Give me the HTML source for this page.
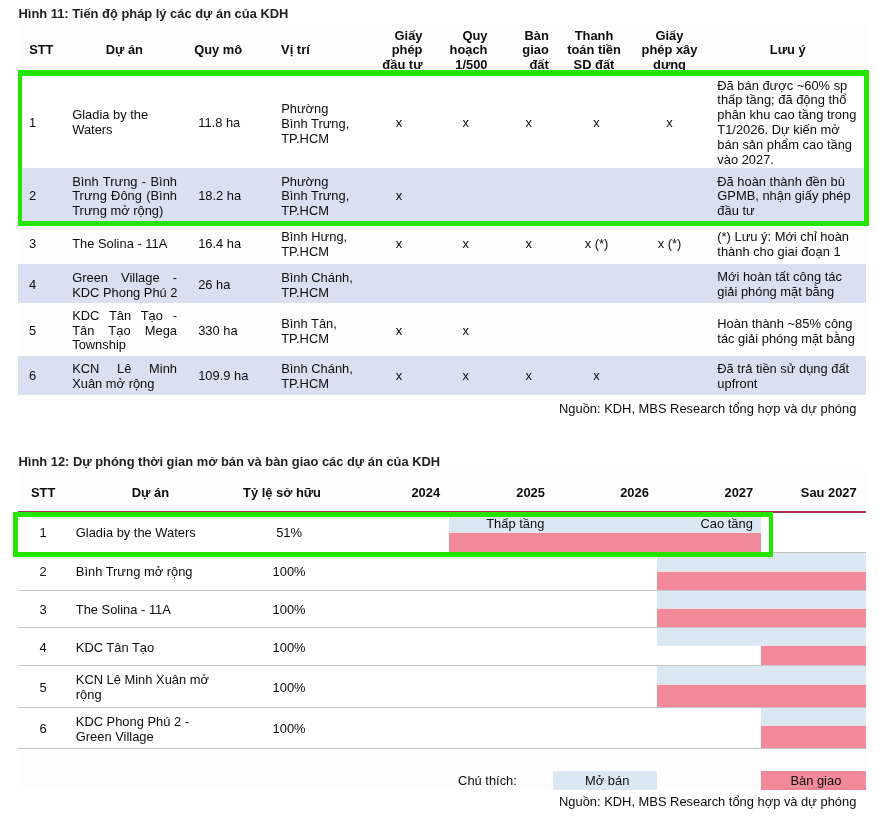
<!DOCTYPE html>
<html><head><meta charset="utf-8">
<style>
html,body{margin:0;padding:0;background:#fff;}
body{will-change:transform;width:887px;height:818px;position:relative;overflow:hidden;font-family:"Liberation Sans",sans-serif;font-size:12.9px;color:#0c0c0c;}
.t{position:absolute;white-space:nowrap;}
.t .j{text-align:justify;text-align-last:justify;white-space:normal;}
.r{position:absolute;}
.g{position:absolute;box-sizing:border-box;border-style:solid;border-color:#24e400;}
</style></head><body>
<div class="r" style="left:18px;top:23px;width:848px;height:372px;background:#fdfdfd"></div>
<div class="r" style="left:18px;top:168px;width:848px;height:56px;background:#d9e0f0"></div>
<div class="r" style="left:18px;top:263.8px;width:848px;height:39.19999999999999px;background:#d9e0f0"></div>
<div class="r" style="left:18px;top:356px;width:848px;height:38.80000000000001px;background:#d9e0f0"></div>
<div class="r" style="left:18px;top:71px;width:848px;height:97px;background:#fefefe"></div>
<div class="t" style="top:6.73px;line-height:14.6px;font-weight:bold;color:#222;left:18.5px;">Hình 11: Tiến độ pháp lý các dự án của KDH</div>
<div class="t" style="top:42.73px;line-height:14.6px;font-weight:bold;left:-108.7px;width:300px;text-align:center;">STT</div>
<div class="t" style="top:42.73px;line-height:14.6px;font-weight:bold;left:-25.700000000000003px;width:300px;text-align:center;">Dự án</div>
<div class="t" style="top:42.73px;line-height:14.6px;font-weight:bold;left:68.19999999999999px;width:300px;text-align:center;">Quy mô</div>
<div class="t" style="top:42.73px;line-height:14.6px;font-weight:bold;left:281.1px;">Vị trí</div>
<div class="t" style="top:28.73px;line-height:14.6px;font-weight:bold;right:464.5px;text-align:right;">Giấy<br>phép<br>đầu tư</div>
<div class="t" style="top:28.73px;line-height:14.6px;font-weight:bold;right:399.5px;text-align:right;">Quy<br>hoạch<br>1/500</div>
<div class="t" style="top:28.73px;line-height:14.6px;font-weight:bold;right:338.20000000000005px;text-align:right;">Bàn<br>giao<br>đất</div>
<div class="t" style="top:28.73px;line-height:14.6px;font-weight:bold;left:444.0px;width:300px;text-align:center;">Thanh<br>toán tiền<br>SD đất</div>
<div class="t" style="top:28.73px;line-height:14.6px;font-weight:bold;left:519.5px;width:300px;text-align:center;">Giấy<br>phép xây<br>dựng</div>
<div class="t" style="top:42.73px;line-height:14.6px;font-weight:bold;left:637.7px;width:300px;text-align:center;">Lưu ý</div>
<div class="t" style="top:115.63px;line-height:14.6px;left:28.9px;">1</div>
<div class="t" style="top:108.33px;line-height:14.6px;left:72.2px;">Gladia by the<br>Waters</div>
<div class="t" style="top:115.63px;line-height:14.6px;left:198.2px;">11.8 ha</div>
<div class="t" style="top:100.63px;line-height:15.0px;left:281.2px;">Phường<br>Bình Trưng,<br>TP.HCM</div>
<div class="t" style="top:115.63px;line-height:14.6px;left:248.89999999999998px;width:300px;text-align:center;">x</div>
<div class="t" style="top:115.63px;line-height:14.6px;left:315.7px;width:300px;text-align:center;">x</div>
<div class="t" style="top:115.63px;line-height:14.6px;left:378.79999999999995px;width:300px;text-align:center;">x</div>
<div class="t" style="top:115.63px;line-height:14.6px;left:446.5px;width:300px;text-align:center;">x</div>
<div class="t" style="top:115.63px;line-height:14.6px;left:519.5px;width:300px;text-align:center;">x</div>
<div class="t" style="top:78.50px;line-height:14.85px;left:717.3px;">Đã bán được ~60% sp<br>thấp tầng; đã động thổ<br>phân khu cao tầng trong<br>T1/2026. Dự kiến mở<br>bán sản phẩm cao tầng<br>vào 2027.</div>
<div class="t" style="top:189.33px;line-height:14.6px;left:28.9px;">2</div>
<div class="t" style="top:175.03px;line-height:14.4px;left:72.2px;width:104.8px;"><div class="j" style="width:104.8px">Bình Trưng - Bình</div><div class="j" style="width:104.8px">Trưng Đông (Bình</div><div>Trưng mở rộng)</div></div>
<div class="t" style="top:189.33px;line-height:14.6px;left:198.2px;">18.2 ha</div>
<div class="t" style="top:175.23px;line-height:14.2px;left:281.2px;">Phường<br>Bình Trưng,<br>TP.HCM</div>
<div class="t" style="top:189.33px;line-height:14.6px;left:248.89999999999998px;width:300px;text-align:center;">x</div>
<div class="t" style="top:175.15px;line-height:14.35px;left:717.3px;">Đã hoàn thành đền bù<br>GPMB, nhận giấy phép<br>đầu tư</div>
<div class="t" style="top:236.83px;line-height:14.6px;left:28.9px;">3</div>
<div class="t" style="top:236.83px;line-height:14.6px;left:72.2px;">The Solina - 11A</div>
<div class="t" style="top:236.83px;line-height:14.6px;left:198.2px;">16.4 ha</div>
<div class="t" style="top:229.93px;line-height:14.6px;left:281.2px;">Bình Hưng,<br>TP.HCM</div>
<div class="t" style="top:236.83px;line-height:14.6px;left:248.89999999999998px;width:300px;text-align:center;">x</div>
<div class="t" style="top:236.83px;line-height:14.6px;left:315.7px;width:300px;text-align:center;">x</div>
<div class="t" style="top:236.83px;line-height:14.6px;left:378.79999999999995px;width:300px;text-align:center;">x</div>
<div class="t" style="top:236.83px;line-height:14.6px;left:446.5px;width:300px;text-align:center;">x (*)</div>
<div class="t" style="top:236.83px;line-height:14.6px;left:519.5px;width:300px;text-align:center;">x (*)</div>
<div class="t" style="top:229.93px;line-height:14.6px;left:717.3px;">(*) Lưu ý: Mới chỉ hoàn<br>thành cho giai đoạn 1</div>
<div class="t" style="top:278.03px;line-height:14.6px;left:28.9px;">4</div>
<div class="t" style="top:269.53px;line-height:15.2px;left:72.2px;width:104.8px;"><div class="j" style="width:104.8px">Green Village -</div><div>KDC Phong Phú 2</div></div>
<div class="t" style="top:278.03px;line-height:14.6px;left:198.2px;">26 ha</div>
<div class="t" style="top:269.63px;line-height:15.0px;left:281.2px;">Bình Chánh,<br>TP.HCM</div>
<div class="t" style="top:269.68px;line-height:14.9px;left:717.3px;">Mới hoàn tất công tác<br>giải phóng mặt bằng</div>
<div class="t" style="top:324.03px;line-height:14.6px;left:28.9px;">5</div>
<div class="t" style="top:309.03px;line-height:14.6px;left:72.2px;width:104.8px;"><div class="j" style="width:104.8px">KDC Tân Tạo -</div><div class="j" style="width:104.8px">Tân Tạo Mega</div><div>Township</div></div>
<div class="t" style="top:324.03px;line-height:14.6px;left:198.2px;">330 ha</div>
<div class="t" style="top:315.53px;line-height:15.0px;left:281.2px;">Bình Tân,<br>TP.HCM</div>
<div class="t" style="top:324.03px;line-height:14.6px;left:248.89999999999998px;width:300px;text-align:center;">x</div>
<div class="t" style="top:324.03px;line-height:14.6px;left:315.7px;width:300px;text-align:center;">x</div>
<div class="t" style="top:315.53px;line-height:15.0px;left:717.3px;">Hoàn thành ~85% công<br>tác giải phóng mặt bằng</div>
<div class="t" style="top:368.63px;line-height:14.6px;left:28.9px;">6</div>
<div class="t" style="top:361.28px;line-height:15.1px;left:72.2px;width:104.8px;"><div class="j" style="width:104.8px">KCN Lê Minh</div><div>Xuân mở rộng</div></div>
<div class="t" style="top:368.63px;line-height:14.6px;left:198.2px;">109.9 ha</div>
<div class="t" style="top:361.23px;line-height:15.0px;left:281.2px;">Bình Chánh,<br>TP.HCM</div>
<div class="t" style="top:368.63px;line-height:14.6px;left:248.89999999999998px;width:300px;text-align:center;">x</div>
<div class="t" style="top:368.63px;line-height:14.6px;left:315.7px;width:300px;text-align:center;">x</div>
<div class="t" style="top:368.63px;line-height:14.6px;left:378.79999999999995px;width:300px;text-align:center;">x</div>
<div class="t" style="top:368.63px;line-height:14.6px;left:446.5px;width:300px;text-align:center;">x</div>
<div class="t" style="top:361.23px;line-height:15.0px;left:717.3px;">Đã trả tiền sử dụng đất<br>upfront</div>
<div class="t" style="top:402.13px;line-height:14.6px;right:30.700000000000045px;text-align:right;">Nguồn: KDH, MBS Research tổng hợp và dự phóng</div>
<div class="g" style="left:18px;top:70px;width:851px;height:155.5px;border-width:6px 5px 5.7px 4.9px"></div>
<div class="t" style="top:455.23px;line-height:14.6px;font-weight:bold;color:#222;left:18.5px;">Hình 12: Dự phóng thời gian mở bán và bàn giao các dự án của KDH</div>
<div class="r" style="left:18px;top:470px;width:848px;height:320px;background:#fdfdfd"></div>
<div class="r" style="left:18px;top:512px;width:848px;height:236.79999999999995px;background:#ffffff"></div>
<div class="t" style="top:486.03px;line-height:14.6px;font-weight:bold;left:-106.9px;width:300px;text-align:center;">STT</div>
<div class="t" style="top:486.03px;line-height:14.6px;font-weight:bold;left:0.4000000000000057px;width:300px;text-align:center;">Dự án</div>
<div class="t" style="top:486.03px;line-height:14.6px;font-weight:bold;left:132.0px;width:300px;text-align:center;">Tỷ lệ sở hữu</div>
<div class="t" style="top:486.03px;line-height:14.6px;font-weight:bold;right:446.9px;text-align:right;">2024</div>
<div class="t" style="top:486.03px;line-height:14.6px;font-weight:bold;right:342.1px;text-align:right;">2025</div>
<div class="t" style="top:486.03px;line-height:14.6px;font-weight:bold;right:238.20000000000005px;text-align:right;">2026</div>
<div class="t" style="top:486.03px;line-height:14.6px;font-weight:bold;right:133.79999999999995px;text-align:right;">2027</div>
<div class="t" style="top:486.03px;line-height:14.6px;font-weight:bold;right:30.299999999999955px;text-align:right;">Sau 2027</div>
<div class="r" style="left:18px;top:510.9px;width:848px;height:1.8000000000000682px;background:#a3364e"></div>
<div class="r" style="left:18px;top:551.7px;width:848px;height:1.1000000000000227px;background:#c4c4c4"></div>
<div class="r" style="left:18px;top:589.6px;width:848px;height:1.1000000000000227px;background:#c4c4c4"></div>
<div class="r" style="left:18px;top:626.7px;width:848px;height:1.1000000000000227px;background:#c4c4c4"></div>
<div class="r" style="left:18px;top:664.5px;width:848px;height:1.1000000000000227px;background:#c4c4c4"></div>
<div class="r" style="left:18px;top:707.0px;width:848px;height:1.1000000000000227px;background:#c4c4c4"></div>
<div class="r" style="left:18px;top:747.7px;width:848px;height:1.1000000000000227px;background:#c4c4c4"></div>
<div class="r" style="left:449px;top:512.2px;width:312px;height:20.5px;background:#dbe8f4"></div>
<div class="r" style="left:449px;top:532.7px;width:312px;height:19.09999999999991px;background:#f38a9b"></div>
<div class="r" style="left:449px;top:532.3px;width:312px;height:0.8000000000000682px;background:#f6dde4"></div>
<div class="r" style="left:657px;top:552.7px;width:209px;height:18.199999999999932px;background:#dbe8f4"></div>
<div class="r" style="left:657px;top:570.9px;width:209px;height:19.0px;background:#f38a9b"></div>
<div class="r" style="left:657px;top:570.5px;width:209px;height:0.7999999999999545px;background:#f6dde4"></div>
<div class="r" style="left:657px;top:590.6px;width:209px;height:17.299999999999955px;background:#dbe8f4"></div>
<div class="r" style="left:657px;top:607.9px;width:209px;height:19.100000000000023px;background:#f38a9b"></div>
<div class="r" style="left:657px;top:607.5px;width:209px;height:0.7999999999999545px;background:#f6dde4"></div>
<div class="r" style="left:657px;top:627.7px;width:209px;height:17.899999999999977px;background:#dbe8f4"></div>
<div class="r" style="left:761px;top:645.6px;width:105px;height:19.299999999999955px;background:#f38a9b"></div>
<div class="r" style="left:761px;top:645.2px;width:105px;height:0.7999999999999545px;background:#f6dde4"></div>
<div class="r" style="left:657px;top:665.5px;width:209px;height:18.899999999999977px;background:#dbe8f4"></div>
<div class="r" style="left:657px;top:684.4px;width:209px;height:22.700000000000045px;background:#f38a9b"></div>
<div class="r" style="left:657px;top:684.0px;width:209px;height:0.7999999999999545px;background:#f6dde4"></div>
<div class="r" style="left:761px;top:708.0px;width:105px;height:17.600000000000023px;background:#dbe8f4"></div>
<div class="r" style="left:761px;top:725.6px;width:105px;height:22.299999999999955px;background:#f38a9b"></div>
<div class="r" style="left:761px;top:725.2px;width:105px;height:0.7999999999999545px;background:#f6dde4"></div>
<div class="t" style="top:516.83px;line-height:14.6px;right:342.70000000000005px;text-align:right;">Thấp tầng</div>
<div class="t" style="top:516.83px;line-height:14.6px;right:134.20000000000005px;text-align:right;">Cao tầng</div>
<div class="t" style="top:525.73px;line-height:14.6px;left:-107.0px;width:300px;text-align:center;">1</div>
<div class="t" style="top:525.73px;line-height:14.6px;left:75.8px;">Gladia by the Waters</div>
<div class="t" style="top:525.73px;line-height:14.6px;left:139.10000000000002px;width:300px;text-align:center;">51%</div>
<div class="t" style="top:565.33px;line-height:14.6px;left:-107.0px;width:300px;text-align:center;">2</div>
<div class="t" style="top:565.33px;line-height:14.6px;left:75.8px;">Bình Trưng mở rộng</div>
<div class="t" style="top:565.33px;line-height:14.6px;left:139.10000000000002px;width:300px;text-align:center;">100%</div>
<div class="t" style="top:602.93px;line-height:14.6px;left:-107.0px;width:300px;text-align:center;">3</div>
<div class="t" style="top:602.93px;line-height:14.6px;left:75.8px;">The Solina - 11A</div>
<div class="t" style="top:602.93px;line-height:14.6px;left:139.10000000000002px;width:300px;text-align:center;">100%</div>
<div class="t" style="top:640.73px;line-height:14.6px;left:-107.0px;width:300px;text-align:center;">4</div>
<div class="t" style="top:640.73px;line-height:14.6px;left:75.8px;">KDC Tân Tạo</div>
<div class="t" style="top:640.73px;line-height:14.6px;left:139.10000000000002px;width:300px;text-align:center;">100%</div>
<div class="t" style="top:680.53px;line-height:14.6px;left:-107.0px;width:300px;text-align:center;">5</div>
<div class="t" style="top:672.93px;line-height:14.6px;left:75.8px;">KCN Lê Minh Xuân mở<br>rộng</div>
<div class="t" style="top:680.53px;line-height:14.6px;left:139.10000000000002px;width:300px;text-align:center;">100%</div>
<div class="t" style="top:721.63px;line-height:14.6px;left:-107.0px;width:300px;text-align:center;">6</div>
<div class="t" style="top:714.28px;line-height:15.1px;left:75.8px;">KDC Phong Phú 2 -<br>Green Village</div>
<div class="t" style="top:721.63px;line-height:14.6px;left:139.10000000000002px;width:300px;text-align:center;">100%</div>
<div class="t" style="top:773.63px;line-height:14.6px;left:337.5px;width:300px;text-align:center;">Chú thích:</div>
<div class="r" style="left:553px;top:771.1px;width:104px;height:18.899999999999977px;background:#dbe8f4"></div>
<div class="t" style="top:773.63px;line-height:14.6px;left:457.20000000000005px;width:300px;text-align:center;">Mở bán</div>
<div class="r" style="left:761px;top:771.1px;width:105px;height:18.699999999999932px;background:#f38a9b"></div>
<div class="t" style="top:773.63px;line-height:14.6px;left:665.9px;width:300px;text-align:center;">Bàn giao</div>
<div class="t" style="top:795.33px;line-height:14.6px;right:30.700000000000045px;text-align:right;">Nguồn: KDH, MBS Research tổng hợp và dự phóng</div>
<div class="g" style="left:13px;top:512px;width:759.7px;height:44.8px;border-width:5px 4.6px 5px 5px"></div>
</body></html>
